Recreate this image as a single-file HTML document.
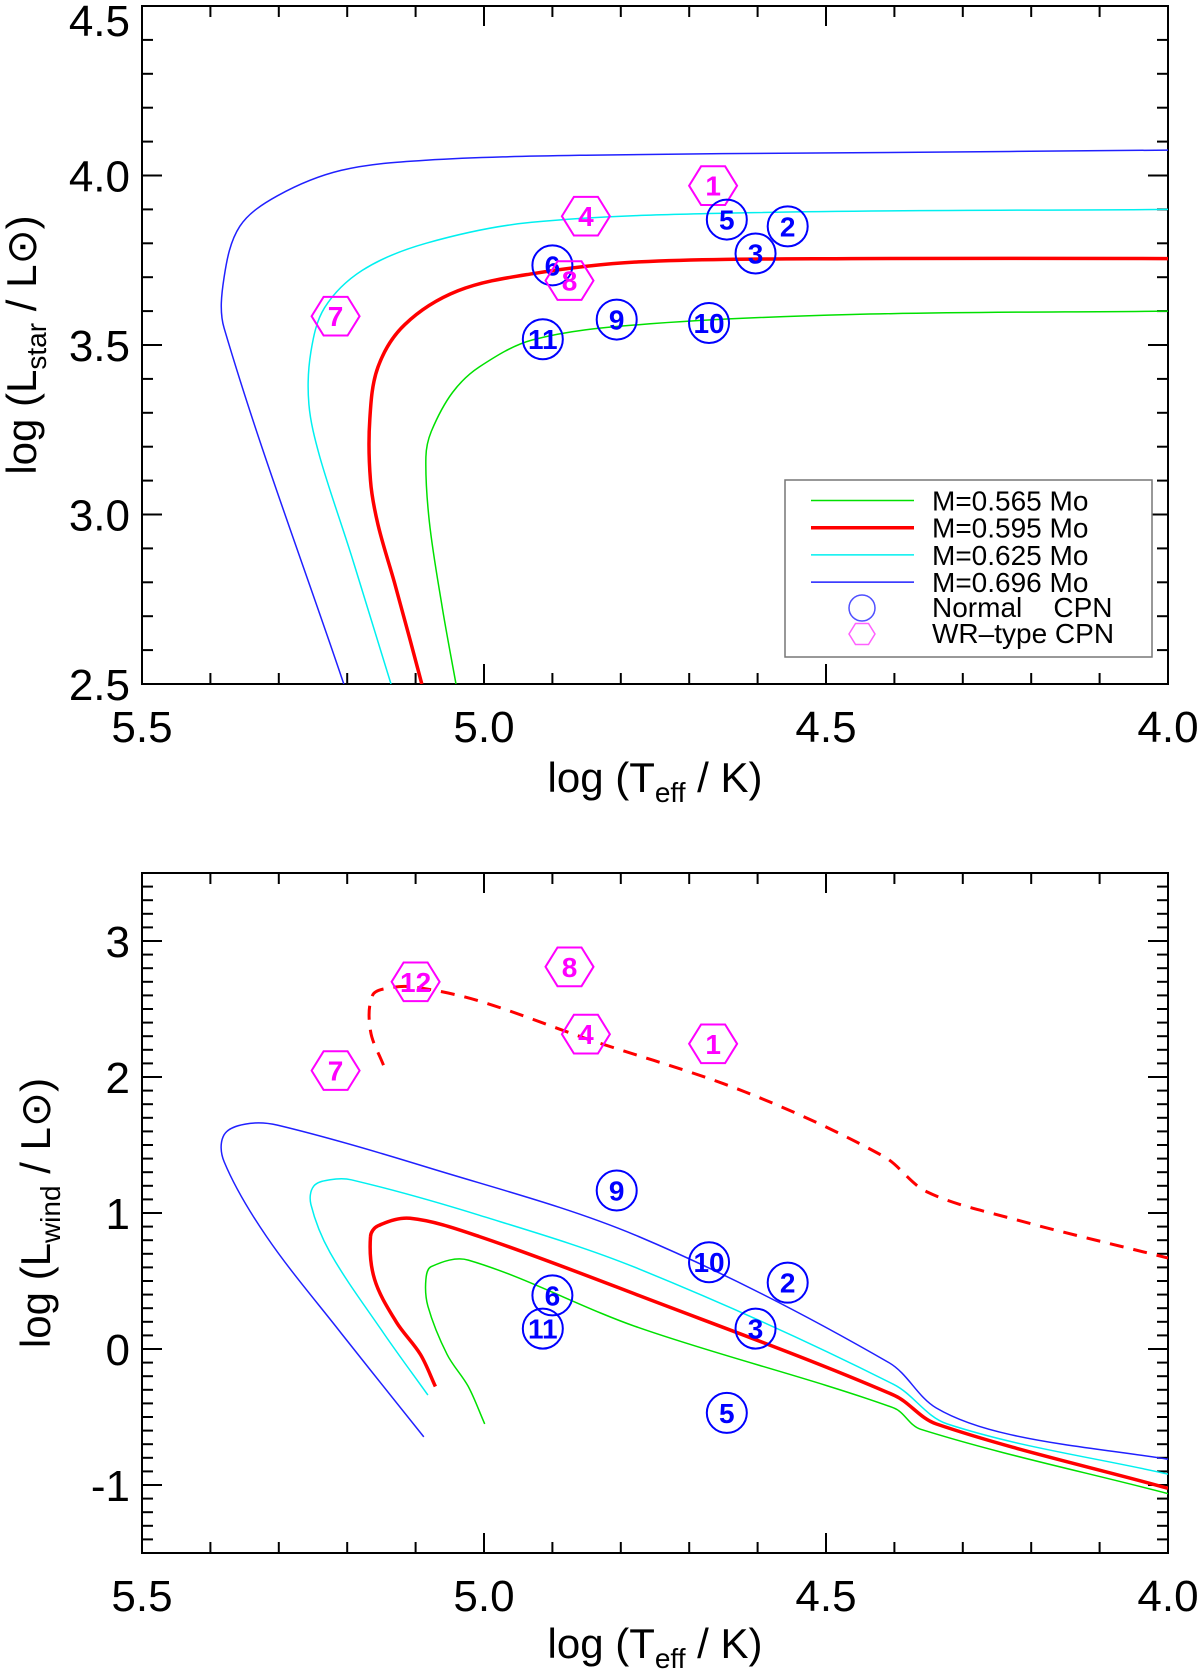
<!DOCTYPE html>
<html><head><meta charset="utf-8">
<style>
html,body{margin:0;padding:0;background:#fff;}
svg{display:block;font-family:"Liberation Sans",Arial,sans-serif;}
</style></head>
<body>
<svg id="chart" width="1200" height="1670" viewBox="0 0 1200 1670" xmlns="http://www.w3.org/2000/svg"></svg>
<script>
// ---- data ----
const topLogT = {
  "0.696":[5.205,5.380,5.380,5.357,5.302,5.209,5.085,4.851,4.463,4.0],
  "0.625":[5.136,5.194,5.24,5.256,5.253,5.233,5.178,5.085,4.93,4.618,4.0],
  "0.595":[5.091,5.108,5.131,5.155,5.166,5.167,5.155,5.116,5.038,4.93,4.774,4.463,4.0],
  "0.565":[5.041,5.061,5.08,5.085,5.077,5.046,5.007,4.929,4.774,4.463,4.0]
};
const topLogL = {
  "0.696":[2.5,3.55,3.70,3.85,3.94,4.015,4.045,4.06,4.067,4.075],
  "0.625":[2.5,2.88,3.17,3.325,3.48,3.61,3.72,3.80,3.862,3.89,3.90],
  "0.595":[2.5,2.63,2.80,2.97,3.10,3.28,3.435,3.56,3.66,3.71,3.745,3.755,3.755],
  "0.565":[2.5,2.725,2.98,3.17,3.245,3.36,3.435,3.515,3.56,3.59,3.60]
};
const botLogT = {
  "0.696":[5.088,5.209,5.318,5.380,5.38,5.349,5.302,5.085,4.774,4.408,4.339,4.23,4.0],
  "0.625":[5.082,5.147,5.225,5.253,5.249,5.225,5.194,5.007,4.774,4.401,4.323,4.0],
  "0.595":[5.071,5.093,5.128,5.16,5.166,5.155,5.108,5.007,4.774,4.401,4.339,4.0],
  "0.565":[4.999,5.023,5.054,5.082,5.085,5.077,5.023,4.774,4.401,4.362,4.0],
  "dashed":[5.147,5.166,5.163,5.14,5.101,5.007,4.851,4.618,4.416,4.353,4.23,4.0]
};
const botLogLw = {
  "0.696":[-0.646,0.118,0.827,1.378,1.575,1.654,1.646,1.339,0.827,-0.10,-0.433,-0.63,-0.81],
  "0.625":[-0.339,0.118,0.709,1.063,1.197,1.244,1.244,0.984,0.59,-0.26,-0.551,-0.92],
  "0.595":[-0.276,-0.04,0.197,0.512,0.827,0.906,0.961,0.827,0.394,-0.339,-0.551,-1.024],
  "0.565":[-0.551,-0.276,-0.04,0.315,0.512,0.606,0.654,0.157,-0.433,-0.59,-1.063],
  "dashed":[2.087,2.339,2.6,2.654,2.661,2.559,2.283,1.89,1.417,1.157,0.961,0.669]
};
const topStarIds = ["1","5","2","3","4","6","8","7","9","10","11"];
const topStarType = ["wr","n","n","n","wr","n","wr","wr","n","n","n"];
const topStarT = [4.665,4.645,4.556,4.603,4.851,4.90,4.875,5.217,4.806,4.671,4.914];
const topStarL = [3.97,3.87,3.85,3.77,3.88,3.735,3.69,3.585,3.575,3.565,3.517];
const botStarIds = ["12","8","4","1","7","9","10","2","6","3","11","5"];
const botStarType = ["wr","wr","wr","wr","wr","n","n","n","n","n","n","n"];
const botStarT = [5.10,4.875,4.851,4.665,5.217,4.806,4.671,4.556,4.90,4.603,4.914,4.645];
const botStarL = [2.70,2.81,2.315,2.244,2.047,1.165,0.638,0.488,0.394,0.15,0.15,-0.47];
const xTickLabels = ["5.5","5.0","4.5","4.0"];
const topYTickLabels = ["2.5","3.0","3.5","4.0","4.5"];
const botYTickLabels = ["-1","0","1","2","3"];

// ---- geometry ----
const L=142,R=1168;
const xS = v => L + (5.5-v)*(R-L)/1.5;
const T1=6,B1=684, yTop = v => T1 + (4.5-v)*(B1-T1)/2.0;
const T2=873,B2=1553, yBot = v => T2 + (3.5-v)*(B2-T2)/5.0;
const svg=document.getElementById('chart');
const NS='http://www.w3.org/2000/svg';
function mk(tag,attrs,parent){const e=document.createElementNS(NS,tag);for(const k in attrs)e.setAttribute(k,attrs[k]);(parent||svg).appendChild(e);return e;}
const colors={"0.696":"#2020ff","0.625":"#00f0f0","0.595":"#ff0000","0.565":"#00e000","dashed":"#ff0000"};
const widths={"0.696":1.5,"0.625":1.5,"0.595":3.5,"0.565":1.5,"dashed":3};

function panel(name,T,B,yf,ymin,ymax,minorStep,majorVals,majorLabels){
  const g=mk('g',{});
  
  
  const cp=mk('clipPath',{id:'clip-'+name},g);
  mk('rect',{x:L,y:T,width:R-L,height:B-T},cp);
  for(let i=0;i<=15;i++){const v=5.5-i*0.1;const x=xS(v);const len=(i%5==0)?20:11;
    mk('line',{x1:x,y1:B,x2:x,y2:B-len,stroke:'#000','stroke-width':2},g);
    mk('line',{x1:x,y1:T,x2:x,y2:T+len,stroke:'#000','stroke-width':2},g);}
  xTickLabels.forEach((s,i)=>{const t=mk('text',{x:xS(5.5-i*0.5),y:B+58,'font-size':44,'text-anchor':'middle'},g);t.textContent=s;
    });
  const n=Math.round((ymax-ymin)/minorStep);
  for(let i=0;i<=n;i++){const v=ymin+i*minorStep;const y=yf(v);
    const maj=majorVals.some(m=>Math.abs(m-v)<1e-6);const len=maj?20:11;
    mk('line',{x1:L,y1:y,x2:L+len,y2:y,stroke:'#000','stroke-width':2},g);
    mk('line',{x1:R,y1:y,x2:R-len,y2:y,stroke:'#000','stroke-width':2},g);}
  majorVals.forEach((v,i)=>{const yy=Math.max(yf(v)+16,36);const t=mk('text',{x:L-12,y:yy,'font-size':44,'text-anchor':'end'},g);t.textContent=majorLabels[i];
    });
  mk('rect',{x:L,y:T,width:R-L,height:B-T,fill:'none',stroke:'#000','stroke-width':2},g);
  return g;
}
function smoothPath(pts){
  const n=pts.length;
  const tan=pts.map((p,i)=>{const a=pts[Math.max(i-1,0)],b=pts[Math.min(i+1,n-1)];
    let dx=b[0]-a[0],dy=b[1]-a[1];const l=Math.hypot(dx,dy)||1;return [dx/l,dy/l];});
  let d='M'+pts[0][0].toFixed(1)+','+pts[0][1].toFixed(1);
  for(let i=0;i<n-1;i++){
    const p1=pts[i],p2=pts[i+1];const seg=Math.hypot(p2[0]-p1[0],p2[1]-p1[1]);const h=seg/3;
    const c1=[p1[0]+tan[i][0]*h,p1[1]+tan[i][1]*h];
    const c2=[p2[0]-tan[i+1][0]*h,p2[1]-tan[i+1][1]*h];
    d+=' C'+c1[0].toFixed(1)+','+c1[1].toFixed(1)+' '+c2[0].toFixed(1)+','+c2[1].toFixed(1)+' '+p2[0].toFixed(1)+','+p2[1].toFixed(1);
  }
  return d;
}
function curve(g,name,xs,ys,yf,key,clip,dash){
  const pts=xs.map((v,i)=>[xS(v),yf(ys[i])]);
  const p=mk('path',{d:smoothPath(pts),fill:'none',stroke:colors[key],'stroke-width':widths[key],'stroke-linejoin':'round','clip-path':'url(#'+clip+')'},g);
  if(dash)p.setAttribute('stroke-dasharray','14,10');
  
  
}
function hexPts(cx,cy,r){let s=[];for(let k=0;k<6;k++){const a=Math.PI/3*k;s.push((cx+r*Math.cos(a)).toFixed(1)+','+(cy+r*Math.sin(a)*0.93).toFixed(1));}return s.join(' ');}
function star(g,id,type,cx,cy){
  const sg=mk('g',{},g);
  
  
  const col=type=='wr'?'#ff00ff':'#0000ff';
  if(type=='wr')mk('polygon',{points:hexPts(cx,cy,24),fill:'none',stroke:col,'stroke-width':2},sg);
  else mk('circle',{cx:cx,cy:cy,r:20,fill:'none',stroke:col,'stroke-width':2},sg);
  const t=mk('text',{x:cx,y:cy+10,'font-size':28,'font-weight':'bold',fill:col,'text-anchor':'middle'},sg);t.textContent=id;
}

const gT=panel('top-panel',T1,B1,yTop,2.5,4.5,0.1,[2.5,3.0,3.5,4.0,4.5],topYTickLabels);
['0.696','0.625','0.595','0.565'].forEach(k=>curve(gT,'track-top-'+k.replace('.',''),topLogT[k],topLogL[k],yTop,k,'clip-top-panel'));
topStarIds.forEach((id,i)=>star(gT,id,topStarType[i],xS(topStarT[i]),yTop(topStarL[i])));
const lg=mk('g',{},gT);


mk('rect',{x:785,y:480,width:367,height:177,fill:'#fff',stroke:'#777','stroke-width':1.5},lg);
const legKeys=['0.565','0.595','0.625','0.696'];
legKeys.forEach((k,i)=>{const y=500.5+i*27.2;
  const ln=mk('line',{x1:811,y1:y,x2:914,y2:y,stroke:colors[k],'stroke-width':widths[k]},lg);
  
  
  const t=mk('text',{x:932,y:y+10,'font-size':28},lg);t.textContent='M='+k+' Mo';
  });
mk('circle',{cx:862,cy:608,r:13,fill:'none',stroke:'#5050ff','stroke-width':1.5},lg);
const tn=mk('text',{x:932,y:617,'font-size':28},lg);tn.textContent='Normal\u00a0\u00a0\u00a0\u00a0CPN';
mk('polygon',{points:hexPts(862,634,13),fill:'none',stroke:'#ff60ff','stroke-width':1.5},lg);
const tw=mk('text',{x:932,y:643,'font-size':28},lg);tw.textContent='WR\u2013type CPN';

const gB=panel('bottom-panel',T2,B2,yBot,-1.5,3.5,0.1,[-1,0,1,2,3],botYTickLabels);
['0.696','0.625','0.595','0.565'].forEach(k=>curve(gB,'track-bottom-'+k.replace('.',''),botLogT[k],botLogLw[k],yBot,k,'clip-bottom-panel'));
curve(gB,'track-bottom-dashed-0595',botLogT['dashed'],botLogLw['dashed'],yBot,'dashed','clip-bottom-panel',true);
botStarIds.forEach((id,i)=>star(gB,id,botStarType[i],xS(botStarT[i]),yBot(botStarL[i])));

function xTitle(name,y){const t=mk('text',{x:655,y:y,'font-size':42,'text-anchor':'middle'});
  
  t.innerHTML='log (T<tspan font-size="28" dy="10">eff</tspan><tspan dy="-10"> / K)</tspan>';}
xTitle('x-axis-title-top',792);
xTitle('x-axis-title-bottom',1658);
const yt1=mk('text',{transform:'translate(36,345) rotate(-90)','font-size':42,'text-anchor':'middle'});

yt1.innerHTML='log (L<tspan font-size="28" dy="10">star</tspan><tspan dy="-10"> / L</tspan><tspan>\u2299)</tspan>';
const yt2=mk('text',{transform:'translate(50,1213) rotate(-90)','font-size':42,'text-anchor':'middle'});

yt2.innerHTML='log (L<tspan font-size="28" dy="10">wind</tspan><tspan dy="-10"> / L</tspan><tspan>\u2299)</tspan>';
</script>
</body></html>
